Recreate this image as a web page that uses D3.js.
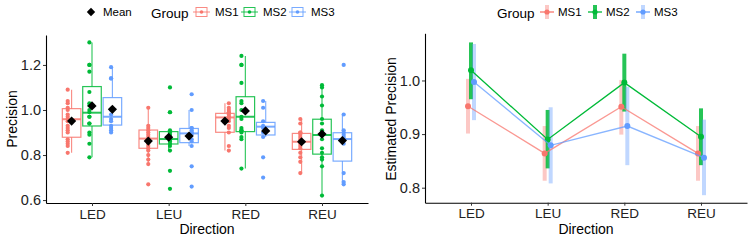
<!DOCTYPE html>
<html><head><meta charset="utf-8">
<script src="https://cdn.jsdelivr.net/npm/d3@7"></script>
<style>
body{margin:0;background:#fff;}
text{font-family:"Liberation Sans",Arial,sans-serif;}
</style></head>
<body><svg id="c" width="754" height="240"></svg>
<script>
const categories = ["LED","LEU","RED","REU"];
const groups = ["MS1","MS2","MS3"];
const colors = ["#F8766D","#00BA38","#619CFF"];

// raw observations [group][category]
const ms1Points = [
  [1.09,1.04,1.03,1.01,1.00,0.98,0.97,0.96,0.95,0.93,0.92,0.91,0.90,0.87,0.86,0.85,0.84,0.81],
  [1.01,0.93,0.92,0.91,0.90,0.89,0.88,0.87,0.86,0.85,0.84,0.83,0.82,0.80,0.78,0.76,0.67],
  [1.03,1.01,1.00,0.99,0.99,0.98,0.97,0.97,0.96,0.95,0.93,0.92,0.90,0.84,0.82],
  [0.96,0.94,0.90,0.90,0.89,0.88,0.87,0.86,0.86,0.85,0.84,0.83,0.81,0.79,0.77,0.72]
];
const ms2Points = [
  [1.30,1.20,1.20,1.17,1.08,1.03,1.02,1.00,0.99,0.97,0.97,0.94,0.94,0.90,0.89,0.85,0.79],
  [1.10,0.99,0.99,0.91,0.90,0.89,0.88,0.88,0.87,0.87,0.86,0.85,0.84,0.82,0.73,0.65],
  [1.24,1.20,1.20,1.12,1.04,1.03,1.00,0.97,0.96,0.92,0.91,0.91,0.90,0.88,0.87,0.74],
  [1.11,1.10,1.06,1.02,0.96,0.94,0.91,0.90,0.89,0.87,0.83,0.81,0.79,0.78,0.75,0.62]
];
const ms3Points = [
  [1.19,1.14,1.14,1.00,0.98,0.96,0.95,0.93,0.92,0.91,0.90],
  [1.07,1.00,0.92,0.92,0.91,0.90,0.90,0.89,0.87,0.86,0.84,0.75,0.66],
  [1.04,1.01,0.95,0.93,0.92,0.90,0.88,0.79,0.70],
  [1.20,0.98,0.91,0.90,0.89,0.88,0.87,0.85,0.72,0.68,0.67]
];

// box summaries [group][category]
const boxLower   = [[0.879,0.830,0.901,0.825],[0.929,0.849,0.904,0.804],[0.933,0.855,0.889,0.773]];
const boxMedian  = [[0.959,0.873,0.967,0.859],[0.988,0.871,0.970,0.889],[0.970,0.896,0.926,0.871]];
const boxUpper   = [[1.006,0.911,0.985,0.896],[1.104,0.904,1.059,0.959],[1.055,0.918,0.945,0.899]];
const whiskerLow = [[0.81,0.76,0.82,0.72],[0.79,0.82,0.74,0.62],[0.90,0.84,0.88,0.67]];
const whiskerHigh= [[1.09,1.01,1.03,0.96],[1.30,0.91,1.24,1.11],[1.19,1.00,1.04,0.98]];
const sampleMean = [[0.951,0.862,0.951,0.859],[1.018,0.879,0.996,0.893],[1.003,0.884,0.907,0.864]];

// model estimates [group][category]
const estMean = [[0.952,0.864,0.951,0.864],[1.019,0.890,0.996,0.895],[0.997,0.879,0.915,0.856]];
const estLow  = [[0.901,0.813,0.899,0.813],[0.965,0.836,0.942,0.842],[0.926,0.808,0.842,0.786]];
const estHigh = [[1.003,0.915,1.001,0.915],[1.071,0.945,1.050,0.948],[1.068,0.950,0.988,0.927]];

const leftTicks = [0.6,0.8,1.0,1.2];
const rightTicks = [0.8,0.9,1.0];

const pointsByGroup = [ms1Points, ms2Points, ms3Points];
const svg = d3.select("#c");
const fmt = d3.format(".1f");

function styleAxis(size){
  return g=>{
    g.select(".domain").attr("stroke","#000").attr("stroke-width",1.1);
    g.selectAll(".tick line").attr("stroke","#333").attr("stroke-width",1);
    g.selectAll(".tick text").attr("fill","#222").attr("font-size",size)
     .attr("font-family","Liberation Sans, Arial, sans-serif");
  };
}

// ---------- LEFT PANEL ----------
const xL = d3.scalePoint().domain(categories).range([46,368]).padding(0.6);
const yL = d3.scaleLinear().domain([0.587,1.333]).range([203,35]);
const stepL = xL.step();
const dodge = 0.266*stepL, boxW = 0.242*stepL;

const gL = svg.append("g");
gL.append("g").attr("transform","translate(46,0)")
  .call(d3.axisLeft(yL).tickValues(leftTicks).tickFormat(fmt).tickSize(3).tickSizeOuter(0).tickPadding(2))
  .call(styleAxis(14.5));
gL.append("g").attr("transform","translate(0,203)")
  .call(d3.axisBottom(xL).tickSize(3).tickSizeOuter(0).tickPadding(3))
  .call(styleAxis(13.5));

groups.forEach((gname,gi)=>{
  const col = colors[gi];
  categories.forEach((cat,ci)=>{
    const cx = xL(cat) + (gi-1)*dodge;
    const bg = gL.append("g").attr("stroke",col).attr("fill","none").attr("stroke-opacity",0.85);
    bg.append("line").attr("x1",cx).attr("x2",cx).attr("y1",yL(whiskerHigh[gi][ci])).attr("y2",yL(boxUpper[gi][ci])).attr("stroke-width",1.1);
    bg.append("line").attr("x1",cx).attr("x2",cx).attr("y1",yL(boxLower[gi][ci])).attr("y2",yL(whiskerLow[gi][ci])).attr("stroke-width",1.1);
    bg.append("rect").attr("x",cx-boxW/2).attr("width",boxW)
      .attr("y",yL(boxUpper[gi][ci])).attr("height",yL(boxLower[gi][ci])-yL(boxUpper[gi][ci])).attr("stroke-width",1.2);
    bg.append("line").attr("x1",cx-boxW/2).attr("x2",cx+boxW/2).attr("y1",yL(boxMedian[gi][ci])).attr("y2",yL(boxMedian[gi][ci])).attr("stroke-width",2);
    const pts = pointsByGroup[gi][ci];
    gL.append("g").selectAll("circle").data(pts).join("circle")
      .attr("cx",(d,i)=>cx + (((i*7+ci*3+gi)%7)-3)*1.3)
      .attr("cy",d=>yL(d)).attr("r",2.1).attr("fill",col);
  });
});
// mean diamonds
groups.forEach((gname,gi)=>{
  categories.forEach((cat,ci)=>{
    const cx = xL(cat) + (gi-1)*dodge, cy = yL(sampleMean[gi][ci]), r=4.6;
    gL.append("path").attr("d",`M${cx},${cy-r}L${cx+r},${cy}L${cx},${cy+r}L${cx-r},${cy}Z`).attr("fill","#000");
  });
});
gL.append("text").attr("transform","translate(17,119) rotate(-90)").attr("text-anchor","middle")
  .attr("font-size",14).attr("fill","#000").text("Precision");
gL.append("text").attr("x",207).attr("y",234).attr("text-anchor","middle")
  .attr("font-size",14).attr("fill","#000").text("Direction");

// left legend
const lg = svg.append("g");
{const cx=91, cy=12, r=4.2;
 lg.append("path").attr("d",`M${cx},${cy-r}L${cx+r},${cy}L${cx},${cy+r}L${cx-r},${cy}Z`).attr("fill","#000");}
lg.append("text").attr("x",103).attr("y",16).attr("font-size",11.5).text("Mean");
lg.append("text").attr("x",151).attr("y",17.5).attr("font-size",13.5).text("Group");
const keyL = [196,244,292];
groups.forEach((gname,gi)=>{
  const x0 = keyL[gi], col = colors[gi];
  const k = lg.append("g").attr("stroke",col).attr("fill","none").attr("stroke-opacity",0.85);
  k.append("line").attr("x1",x0-3).attr("x2",x0).attr("y1",12).attr("y2",12);
  k.append("line").attr("x1",x0+11).attr("x2",x0+14).attr("y1",12).attr("y2",12);
  k.append("rect").attr("x",x0).attr("y",7.5).attr("width",11).attr("height",9);
  k.append("line").attr("x1",x0).attr("x2",x0+11).attr("y1",12).attr("y2",12);
  lg.append("circle").attr("cx",x0+5.5).attr("cy",12).attr("r",1.8).attr("fill",col);
  lg.append("text").attr("x",x0+19).attr("y",16).attr("font-size",11.5).text(gname);
});

// ---------- RIGHT PANEL ----------
const xR = d3.scalePoint().domain(categories).range([425,747]).padding(0.6);
const yR = d3.scaleLinear().domain([0.772,1.088]).range([202.7,33.3]);
const gR = svg.append("g");
gR.append("g").attr("transform","translate(425,0)")
  .call(d3.axisLeft(yR).tickValues(rightTicks).tickFormat(fmt).tickSize(3).tickSizeOuter(0).tickPadding(2))
  .call(styleAxis(14.5));
gR.append("g").attr("transform","translate(0,202.7)")
  .call(d3.axisBottom(xR).tickSize(3).tickSizeOuter(0).tickPadding(3))
  .call(styleAxis(13.5));
const barOp = [0.4,0.85,0.4];
const rdodge = 3;
groups.forEach((gname,gi)=>{
  categories.forEach((cat,ci)=>{
    const cx = xR(cat)+(gi-1)*rdodge;
    gR.append("line").attr("x1",cx).attr("x2",cx).attr("y1",yR(estLow[gi][ci])).attr("y2",yR(estHigh[gi][ci]))
      .attr("stroke",colors[gi]).attr("stroke-width",4).attr("stroke-opacity",barOp[gi]);
  });
});
groups.forEach((gname,gi)=>{
  const line = d3.line().x((d,ci)=>xR(categories[ci])+(gi-1)*rdodge).y(d=>yR(d));
  gR.append("path").attr("d",line(estMean[gi])).attr("fill","none").attr("stroke",colors[gi])
    .attr("stroke-width",1.3).attr("stroke-opacity",gi===1?1:0.75);
  gR.append("g").selectAll("circle").data(estMean[gi]).join("circle")
    .attr("cx",(d,ci)=>xR(categories[ci])+(gi-1)*rdodge).attr("cy",d=>yR(d)).attr("r",3).attr("fill",colors[gi]);
});
gR.append("text").attr("transform","translate(396,119) rotate(-90)").attr("text-anchor","middle")
  .attr("font-size",14).attr("fill","#000").text("Estimated Precision");
gR.append("text").attr("x",586).attr("y",234).attr("text-anchor","middle")
  .attr("font-size",14).attr("fill","#000").text("Direction");

// right legend
const rg = svg.append("g");
rg.append("text").attr("x",497).attr("y",17.5).attr("font-size",13.5).text("Group");
const keyR = [547,595,643];
groups.forEach((gname,gi)=>{
  const cx = keyR[gi], col = colors[gi];
  rg.append("line").attr("x1",cx).attr("x2",cx).attr("y1",5).attr("y2",19).attr("stroke",col).attr("stroke-width",4).attr("stroke-opacity",barOp[gi]);
  rg.append("line").attr("x1",cx-7).attr("x2",cx+7).attr("y1",12).attr("y2",12).attr("stroke",col).attr("stroke-width",1.3);
  rg.append("circle").attr("cx",cx).attr("cy",12).attr("r",2.6).attr("fill",col);
  rg.append("text").attr("x",cx+11).attr("y",16).attr("font-size",11.5).text(gname);
});
</script></body></html>
